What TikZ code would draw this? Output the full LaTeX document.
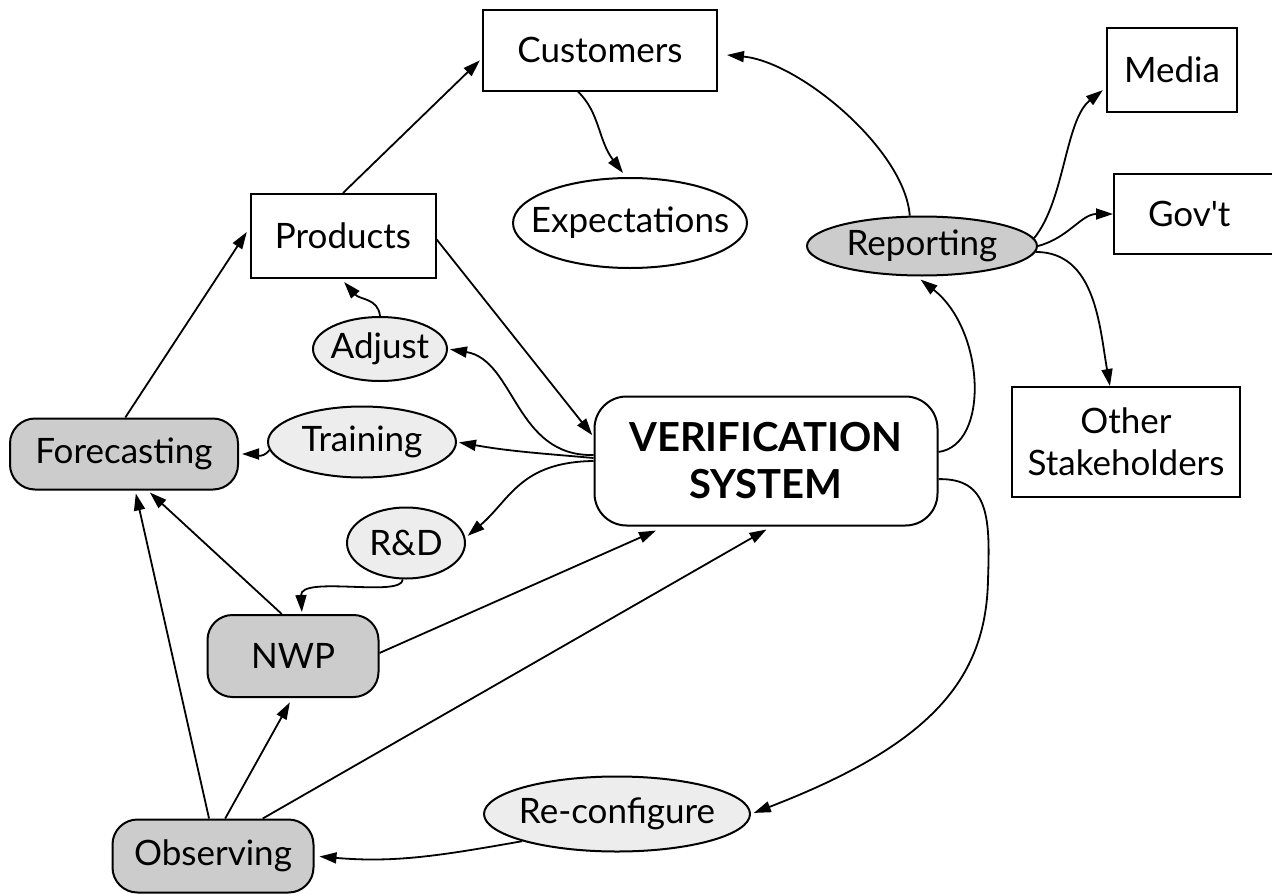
\documentclass[tikz,border=0pt]{standalone}
\usepackage{fontspec}
\setmainfont{Lato}
\usetikzlibrary{arrows.meta,shapes.geometric}
\definecolor{procgray}{gray}{0.8}
\definecolor{taskgray}{gray}{0.93}
\newcommand{\lbl}[1]{\makebox[0pt]{#1}}

\begin{document}
\begin{tikzpicture}[x=1pt,y=1pt,
        every node/.style={font=\fontsize{35}{42}\selectfont,line width=2pt,inner sep=0pt,align=center},
        box/.style={draw,rectangle},
        proc/.style={draw,rectangle,rounded corners=25pt,fill=procgray},
        oval/.style={draw,ellipse,fill=white},
        task/.style={draw,ellipse,fill=taskgray},
        arr/.style={-{Triangle[length=17pt,width=11pt]},line width=1.8pt}]
            \useasboundingbox (0,0) rectangle (1272,-894);

            \node (cust) at (600,-50) [box,minimum width=234pt,minimum height=81pt] {Customers};
            \node (media) at (1172,-70) [box,minimum width=130pt,minimum height=84pt] {Media};
            \node (gov) at (1113,-214) [box,anchor=west,text width=125pt,align=left,inner xsep=34pt,minimum height=80pt] {Gov\textquotesingle t};
            \node (other) at (1126,-442) [box,minimum width=228pt,minimum height=110pt] {Other\\Stakeholders};
            \node (prod) at (343,-236) [box,minimum width=185pt,minimum height=84pt] {Products};
            \node (expect) at (630,-223) [oval,minimum width=234pt,minimum height=90pt] {\lbl{Expectations}};
            \node (rep) at (922,-246) [oval,fill=procgray,minimum width=230pt,minimum height=59pt] {\lbl{Reporting}};
            \node (adj) at (380,-349) [task,minimum width=134pt,minimum height=64pt] {\lbl{Adjust}};
            \node (train) at (362,-442) [task,minimum width=188pt,minimum height=71pt] {\lbl{Training}};
            \node (fore) at (124,-454) [proc,minimum width=228pt,minimum height=71pt] {Forecasting};
            \node (ver) at (766,-461) [box,rounded corners=32pt,minimum width=343pt,minimum height=129pt,
                font=\fontsize{40}{47}\selectfont\bfseries] {VERIFICATION\\SYSTEM};
            \node (rnd) at (406,-543) [task,minimum width=118pt,minimum height=71pt] {\lbl{R\&D}};
            \node (nwp) at (293,-656) [proc,minimum width=171pt,minimum height=82pt] {NWP};
            \node (obs) at (213,-856) [proc,minimum width=201pt,minimum height=73pt] {Observing};
            \node (recfg) at (617,-814) [task,minimum width=266pt,minimum height=75pt] {\lbl{Re-configure}};

            \draw[arr,shorten >=3pt] (prod.north) -- (cust.184);
            \draw[arr,shorten >=5pt] (cust.242) .. controls (600,-113) and (598,-140) .. (expect.95);
            \draw[arr,shorten >=9pt] (rep.112) .. controls (905,-150) and (800,-62) .. (cust.-2);
            \draw[arr,shorten >=4pt] (rep.4) .. controls (1065,-200) and (1065,-120) .. (media.195);
            \draw[arr] (rep.0) to[out=15,in=180] (gov.west);
            \draw[arr] (rep.-3) to[out=0,in=100] (other.106);
            \draw[arr,shorten >=5pt] (ver.3) .. controls (990,-445) and (985,-330) .. (rep.-100);
            \draw[arr,shorten >=3pt] (ver.-6) .. controls (990,-478) and (990,-520) .. (988,-580)
                .. controls (986,-680) and (930,-745) .. (recfg.east);
            \draw[arr,shorten >=5pt] (recfg.196) to[out=190,in=-5] (obs.east);

            \draw[arr,shorten >=2pt] (prod.-2) -- (ver.172);
            \draw[arr,shorten >=2pt] (ver.178) .. controls (515,-457) and (515,-360) .. (adj.east);
            \draw[arr,shorten >=2pt] (ver.179) to[out=175,in=-10] (train.east);
            \draw[arr,shorten >=3pt] (ver.west) .. controls (520,-462) and (510,-500) .. (rnd.5);
            \draw[arr,shorten >=3pt] (train.185) to[out=235,in=0] (fore.east);
            \draw[arr,shorten >=4pt] (adj.north) .. controls (378,-298) and (360,-300) .. (prod.-92);
            \draw[arr,shorten >=2pt] (rnd.-95) .. controls (402,-598) and (300,-575) .. (nwp.78);

            \draw[arr,shorten >=5pt] (fore.88) -- (prod.175);
            \draw[arr,shorten >=3pt] (nwp.105) -- (fore.-57);
            \draw[arr,shorten >=3pt] (obs.96) -- (fore.-73);
            \draw[arr,shorten >=5pt] (obs.72) -- (nwp.-91);
            \draw[arr,shorten >=6pt] (obs.37) -- (ver.-85);
            \draw[arr,shorten >=10pt] (nwp.2) -- (ver.213);
        \end{tikzpicture}
\end{document}
